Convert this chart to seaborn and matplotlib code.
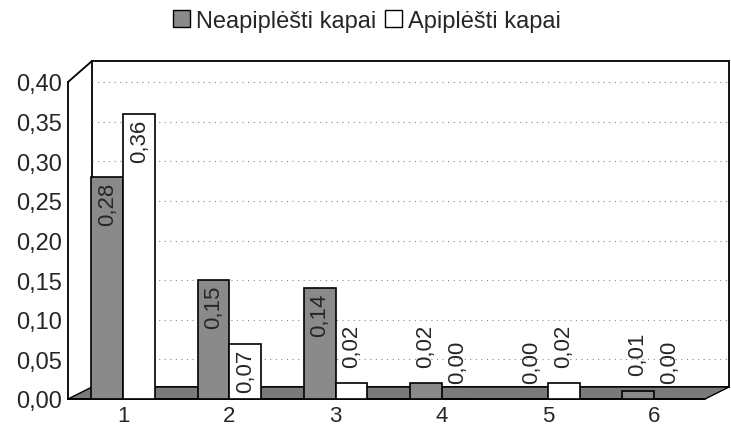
import numpy as np
import pandas as pd
import matplotlib
import matplotlib.pyplot as plt
import seaborn as sns
from matplotlib.patches import Polygon, Patch
from matplotlib.lines import Line2D
from matplotlib.ticker import FuncFormatter, MultipleLocator

# values
groups = ['1', '2', '3', '4', '5', '6']
neapilesti = [0.28, 0.15, 0.14, 0.02, 0.00, 0.01]
apilesti = [0.36, 0.07, 0.02, 0.00, 0.02, 0.00]
series_names = ['Neapiplėšti kapai', 'Apiplėšti kapai']

df = pd.DataFrame({
    'grupe': groups * 2,
    'reiksme': neapilesti + apilesti,
    'serija': [series_names[0]] * len(groups) + [series_names[1]] * len(groups),
})

sns.set_theme(style='white')
plt.rcParams['font.family'] = ['Liberation Sans', 'DejaVu Sans']

W, H = 731, 427
fig = plt.figure(figsize=(W / 100, H / 100), dpi=100)
ax = fig.add_axes([68 / W, 1 - 400 / H, (705 - 68) / W, (400 - 83) / H])
ax.set_zorder(2)

dark = '#8a8a8a'
pal = {series_names[0]: dark, series_names[1]: 'white'}

# pseudo 3D back wall + floor (decoration only)
def px(x, y):
    return (x / W, 1 - y / H)

wall = Polygon([px(92, 62), px(729, 62), px(729, 388), px(92, 388)],
               closed=True, facecolor='white', edgecolor='black', lw=1.3,
               transform=fig.transFigure, zorder=0)
fig.patches.append(wall)
side = Line2D([68 / W, 92 / W], [1 - 83 / H, 1 - 62 / H], color='black', lw=1.3,
              transform=fig.transFigure, zorder=0)
fig.lines.append(side)
floor = Polygon([px(68, 400), px(92, 388), px(729, 388), px(705, 400)],
                closed=True, facecolor='#7a7a7a', edgecolor='black', lw=1.0,
                transform=fig.transFigure, zorder=0)
fig.patches.append(floor)

ax.patch.set_visible(False)
sns.barplot(data=df, x='grupe', y='reiksme', hue='serija', palette=pal,
            width=0.6, edgecolor='black', linewidth=1.2, ax=ax, legend=False,
            zorder=3)

ax.set_ylim(0, 0.40)
ax.set_xlim(-0.52, 5.48)
ax.yaxis.set_major_locator(MultipleLocator(0.05))
ax.yaxis.set_major_formatter(FuncFormatter(lambda v, p: f'{v:.2f}'.replace('.', ',')))
# dotted gridlines on the back wall
x0 = (92 - 68) / (705 - 68)
x1 = (729 - 68) / (705 - 68)
for y in np.arange(0.05, 0.401, 0.05):
    ax.axhline(y, xmin=x0, xmax=x1, color='#888888', lw=0.8, ls=(0, (1, 4)),
               zorder=1, clip_on=False)

ax.set_xlabel('')
ax.set_ylabel('')
ax.tick_params(axis='y', labelsize=17, length=0, pad=4)
ax.tick_params(axis='x', labelsize=16, length=0, pad=4)
for s in ['top', 'right']:
    ax.spines[s].set_visible(False)
for s in ['left', 'bottom']:
    ax.spines[s].set_color('black')
    ax.spines[s].set_linewidth(1.3)

# rotated value labels
for cont in ax.containers:
    for bar in cont:
        h = bar.get_height()
        xc = bar.get_x() + bar.get_width() / 2
        txt = f'{h:.2f}'.replace('.', ',')
        if h > 0.05:
            ax.text(xc, h - 0.006, txt, rotation=90, ha='center', va='top',
                    fontsize=16, zorder=5)
        else:
            ax.text(xc, h + 0.02, txt, rotation=90, ha='center', va='bottom',
                    fontsize=16, zorder=5)

handles = [Patch(facecolor=dark, edgecolor='black', label=series_names[0]),
           Patch(facecolor='white', edgecolor='black', label=series_names[1])]
fig.legend(handles=handles, loc='center', bbox_to_anchor=(367 / W, 1 - 22 / H),
           ncol=2, frameon=False, fontsize=17, handlelength=0.7, handleheight=0.7,
           handletextpad=0.25, columnspacing=0.4)

fig.savefig('out.png', dpi=100)
